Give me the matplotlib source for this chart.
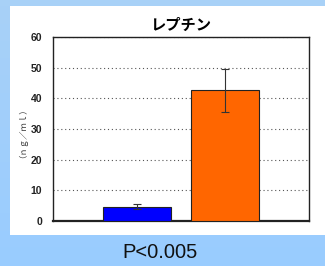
import numpy as np
import matplotlib.pyplot as plt
from matplotlib.patches import Rectangle

plt.rcParams['font.family'] = ['Noto Sans CJK JP', 'DejaVu Sans']

groups = ['control', 'case']
means = [4.7, 42.6]
errors = [0.9, 7.1]
colors = ['#0000FF', '#FF6600']
yticks = [0, 10, 20, 30, 40, 50, 60]
title = 'レプチン'
ylabel = '（ｎｇ／ｍｌ）'
note = 'P<0.005'

fig = plt.figure(figsize=(3.25, 2.66), dpi=100)
W, H = 325, 266

# background gradient (top darker, bottom slightly lighter)
bg = fig.add_axes([0, 0, 1, 1], zorder=0)
grad = np.linspace(0, 1, 100).reshape(-1, 1)
top = np.array([0.60, 0.80, 1.00])
bot = np.array([0.66, 0.82, 0.97])
img = top[None, None, :] * (1 - grad[:, :, None]) + bot[None, None, :] * grad[:, :, None]
bg.imshow(img, aspect='auto', extent=[0, 1, 1, 0])
bg.set_xlim(0, 1)
bg.set_ylim(0, 1)
bg.axis('off')
fig.patches.append(Rectangle((10 / W, 1 - 235 / H), 1, (235 - 6) / H, facecolor='white',
                             edgecolor='none', transform=fig.transFigure, zorder=0.5))

ax = fig.add_axes([53 / W, 1 - 221 / H, 256 / W, 184 / H], zorder=1)
x = np.arange(len(groups))
ax.bar(x, means, width=0.773, color=colors, edgecolor='#222222', linewidth=0.8, zorder=3)
ax.errorbar(x, means, yerr=errors, fmt='none', ecolor='#333333', elinewidth=0.8,
            capsize=3, capthick=0.8, zorder=4)
ax.set_xlim(-0.955, 1.955)
ax.set_ylim(0, 60)
ax.set_yticks(yticks)
ax.set_yticklabels([str(t) for t in yticks], fontsize=7.5, fontweight='bold',
                   family=['Liberation Sans', 'DejaVu Sans'], color='#222222')
ax.tick_params(axis='y', length=0, pad=8)
ax.set_xticks([])
ax.yaxis.grid(True, linestyle=(0, (1, 2.5)), color='#555555', linewidth=0.8, zorder=0)
for s in ax.spines.values():
    s.set_color('#222222')
    s.set_linewidth(1.0)
ax.spines['bottom'].set_linewidth(1.6)
ax.set_title(title, fontsize=11, fontweight='bold', pad=5)
ax.set_ylabel(ylabel, fontsize=6, labelpad=5, color='#333333')

fig.text(160 / W, 1 - 252 / H, note, fontsize=14.5, ha='center', va='center',
         family=['Liberation Sans', 'DejaVu Sans'], color='#111111')

fig.savefig('out.png', dpi=100)
